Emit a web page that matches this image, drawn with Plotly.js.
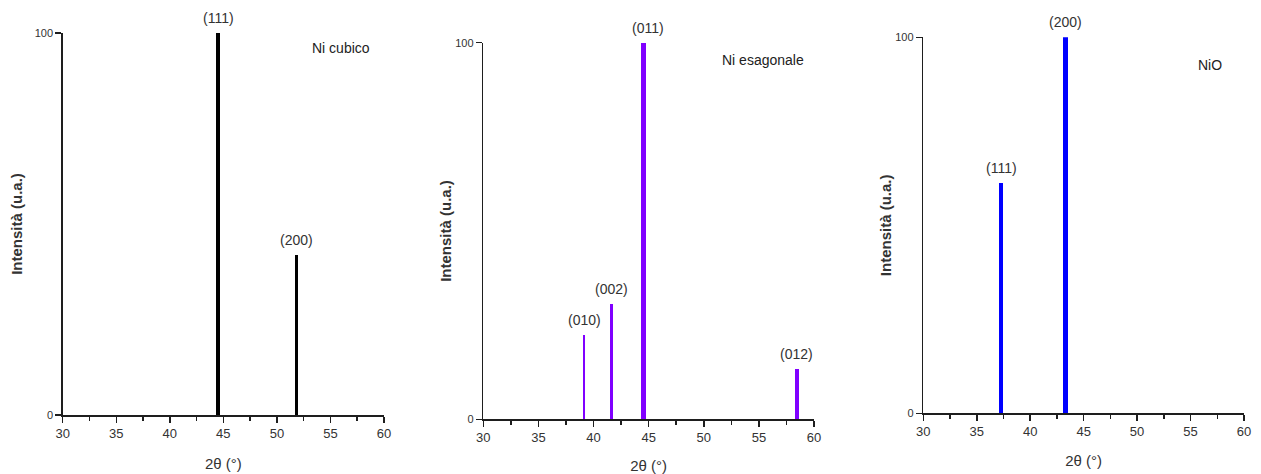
<!DOCTYPE html>
<html><head><meta charset="utf-8">
<script src="https://cdn.plot.ly/plotly-3.0.1.min.js"></script>
<style>html,body{margin:0;padding:0;background:#fff}</style>
</head><body><div id="chart" style="width:1261px;height:474px"></div>
<script>
// ---- data ----
const niCubicAngles = [44.5, 51.85];
const niCubicIntensity = [100, 42];
const niCubicHkl = ['(111)', '(200)'];

const niHexAngles = [39.15, 41.6, 44.55, 58.45];
const niHexIntensity = [22.4, 30.5, 100, 13.4];
const niHexHkl = ['(010)', '(002)', '(011)', '(012)'];

const nioAngles = [37.3, 43.3];
const nioIntensity = [61.3, 100];
const nioHkl = ['(111)', '(200)'];

const phaseNames = ['Ni cubico', 'Ni esagonale', 'NiO'];
const xTickVals = [30, 35, 40, 45, 50, 55, 60];
const yTickVals = [0, 100];
const xTitle = '2θ (°)';
const yTitle = 'Intensità (u.a.)';

// ---- layout helpers ----
const W = 1261, H = 474;
const narrow = 'Liberation Sans Narrow, Arial Narrow, Liberation Sans, sans-serif';
const axisColor = '#1e1e1e';
const textColor = '#333333';

function xDom(l, r) { return [l / W, r / W]; }
function yDom(top, bottom) { return [1 - bottom / H, 1 - top / H]; }

function xAxis(dom, anchor, standoff) {
  return {
    domain: dom, anchor: anchor, range: [30, 60], tickvals: xTickVals,
    ticks: 'outside', ticklen: 6, tickwidth: 1.5, tickcolor: axisColor,
    minor: {dtick: 2.5, ticks: 'outside', ticklen: 4, tickwidth: 1.5, tickcolor: axisColor, showgrid: false},
    showline: true, linecolor: axisColor, linewidth: 1.5,
    showgrid: false, zeroline: false, fixedrange: true,
    tickfont: {family: narrow, size: 13, color: textColor},
    title: {text: xTitle, standoff: standoff, font: {family: narrow, size: 15, color: textColor}}
  };
}
function yAxis(dom, anchor, standoff) {
  return {
    domain: dom, anchor: anchor, range: [0, 100], tickvals: yTickVals,
    ticks: 'outside', ticklen: 6, tickwidth: 1.5, tickcolor: axisColor,
    showline: true, linecolor: axisColor, linewidth: 1.5,
    showgrid: false, zeroline: false, fixedrange: true,
    tickfont: {family: narrow, size: 11, color: textColor},
    title: {text: yTitle, standoff: standoff, font: {family: 'Liberation Sans, Arial, sans-serif', size: 15, color: textColor, weight: 'bold'}}
  };
}

const traces = [
  {type: 'bar', x: niCubicAngles, y: niCubicIntensity, width: [0.36, 0.28],
   marker: {color: '#000000', line: {width: 0}}, xaxis: 'x', yaxis: 'y', name: phaseNames[0]},
  {type: 'bar', x: niHexAngles, y: niHexIntensity, width: [0.22, 0.25, 0.42, 0.38],
   marker: {color: '#8000FF', line: {width: 0}}, xaxis: 'x2', yaxis: 'y2', name: phaseNames[1]},
  {type: 'bar', x: nioAngles, y: nioIntensity, width: [0.37, 0.4],
   marker: {color: '#0000FF', line: {width: 0}}, xaxis: 'x3', yaxis: 'y3', name: phaseNames[2]}
];

const annotations = [];
function peakLabels(xs, ys, labels, xref, yref) {
  xs.forEach((x, i) => annotations.push({
    x: x, y: ys[i], xref: xref, yref: yref, text: labels[i], showarrow: false,
    yanchor: 'middle', yshift: 15, xshift: ys[i] === 100 && xref === 'x2' ? 4 : 0,
    font: {family: narrow, size: 14, color: textColor}
  }));
}
peakLabels(niCubicAngles, niCubicIntensity, niCubicHkl, 'x', 'y');
peakLabels(niHexAngles, niHexIntensity, niHexHkl, 'x2', 'y2');
peakLabels(nioAngles, nioIntensity, nioHkl, 'x3', 'y3');

const phasePos = [[56.03, 96.1, 'x', 'y'], [55.35, 95.4, 'x2', 'y2'], [56.8, 92.6, 'x3', 'y3']];
phasePos.forEach((p, i) => annotations.push({
  x: p[0], y: p[1], xref: p[2], yref: p[3], text: phaseNames[i], showarrow: false,
  font: {family: narrow, size: 14, color: '#222222'}
}));

const layout = {
  width: W, height: H, margin: {l: 0, r: 0, t: 0, b: 0},
  paper_bgcolor: '#ffffff', plot_bgcolor: '#ffffff', showlegend: false, bargap: 0,
  xaxis: xAxis(xDom(62.7, 384), 'y', 18),
  yaxis: yAxis(yDom(33, 415), 'x', 8),
  xaxis2: xAxis(xDom(483.3, 814), 'y2', 18),
  yaxis2: yAxis(yDom(42.7, 419.3), 'x2', 0),
  xaxis3: xAxis(xDom(923.3, 1244), 'y3', 17),
  yaxis3: yAxis(yDom(37.3, 413.3), 'x3', 0),
  annotations: annotations
};

Plotly.newPlot('chart', traces, layout, {displayModeBar: false, staticPlot: true});
</script></body></html>
